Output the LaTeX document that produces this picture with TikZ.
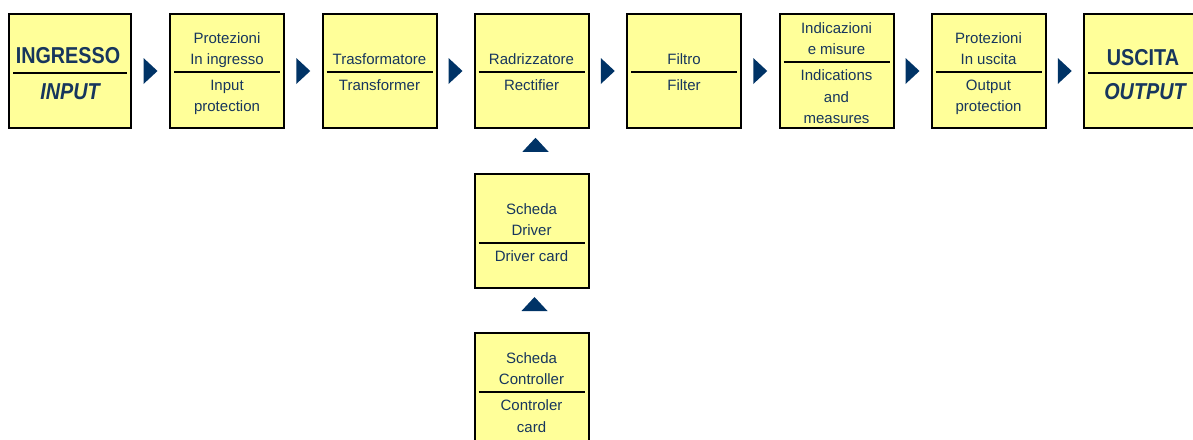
\documentclass[tikz,border=0pt]{standalone}
\usepackage{fontspec}
\setmainfont{Liberation Sans}
\newfontfamily\titlefont[FakeStretch=0.86]{Liberation Sans}
\usepackage{tikz}
\usetikzlibrary{calc,positioning}

\definecolor{boxyellow}{RGB}{255,255,153}
\definecolor{textblue}{RGB}{23,54,93}
\definecolor{triblue}{RGB}{0,51,102}

\tikzset{
	block/.style={draw=black, line width=2pt, fill=boxyellow, minimum width=114pt, minimum height=114pt, inner sep=0pt},
	wideblock/.style={block, minimum width=122pt},
	divider/.style={line width=2pt},
	upper/.style={anchor=south, align=center, text=textblue, inner xsep=0pt, inner ysep=0.5pt, font=\fontsize{15}{21.5}\selectfont, execute at end node=\strut},
	lower/.style={anchor=north, align=center, text=textblue, inner xsep=0pt, inner ysep=7.5pt, font=\fontsize{15}{21.5}\selectfont},
	titleup/.style={anchor=south, inner sep=0pt, text=textblue, text depth=9.5pt, font=\titlefont\fontsize{23}{27}\selectfont\bfseries},
	titledown/.style={anchor=north, inner sep=0pt, text=textblue, text height=26pt, font=\titlefont\fontsize{23}{27}\selectfont\bfseries\itshape},
	tri/.style={fill=triblue}
}

\begin{document}
\begin{tikzpicture}[x=1pt,y=-1pt]
				\useasboundingbox (0,0) rectangle (1193,439);
				\clip (0,0) rectangle (1193,439);
				
				\node [wideblock] (input) at (70,71) {};
				\node [block] (inprot) at (227,71) {};
				\node [block] (transf) at (379.5,71) {};
				\node [block] (rectif) at (531.5,71) {};
				\node [block] (filter) at (684,71) {};
				\node [block] (measure) at (836.5,71) {};
				\node [block] (outprot) at (988.5,71) {};
				\node [wideblock] (output) at (1145,71) {};
				\node [block] (driver) at (531.5,230.5) {};
				\node [block] (control) at (531.5,389.5) {};
				
				\coordinate (d1) at (70,73);
				\coordinate (d2) at (227,72);
				\coordinate (d3) at (379.5,72);
				\coordinate (d4) at (531.5,72);
				\coordinate (d5) at (684,72);
				\coordinate (d6) at (836.5,62);
				\coordinate (d7) at (988.5,72);
				\coordinate (d8) at (1145,73);
				\coordinate (d9) at (531.5,243);
				\coordinate (d10) at (531.5,392);
				
				\draw [divider] ($(input.west |- d1)+(5,0)$) -- ($(input.east |- d1)+(-5,0)$);
				\draw [divider] ($(inprot.west |- d2)+(5,0)$) -- ($(inprot.east |- d2)+(-5,0)$);
				\draw [divider] ($(transf.west |- d3)+(5,0)$) -- ($(transf.east |- d3)+(-5,0)$);
				\draw [divider] ($(rectif.west |- d4)+(5,0)$) -- ($(rectif.east |- d4)+(-5,0)$);
				\draw [divider] ($(filter.west |- d5)+(5,0)$) -- ($(filter.east |- d5)+(-5,0)$);
				\draw [divider] ($(measure.west |- d6)+(5,0)$) -- ($(measure.east |- d6)+(-5,0)$);
				\draw [divider] ($(outprot.west |- d7)+(5,0)$) -- ($(outprot.east |- d7)+(-5,0)$);
				\draw [divider] ($(output.west |- d8)+(5,0)$) -- ($(output.east |- d8)+(-5,0)$);
				\draw [divider] ($(driver.west |- d9)+(5,0)$) -- ($(driver.east |- d9)+(-5,0)$);
				\draw [divider] ($(control.west |- d10)+(5,0)$) -- ($(control.east |- d10)+(-5,0)$);
				
				\node [titleup] (ingresso) at ($(d1)+(-2,0)$) {INGRESSO};
				\node [titledown] (inputen) at (d1) {INPUT};
				\node [upper] (inprotit) at (d2) {Protezioni\\In ingresso};
				\node [lower] (inproten) at (d2) {Input\\protection};
				\node [upper] (transfit) at (d3) {Trasformatore};
				\node [lower] (transfen) at (d3) {Transformer};
				\node [upper] (rectifit) at (d4) {Radrizzatore};
				\node [lower] (rectifen) at (d4) {Rectifier};
				\node [upper] (filterit) at (d5) {Filtro};
				\node [lower] (filteren) at (d5) {Filter};
				\node [upper] (measureit) at (d6) {Indicazioni\\e misure};
				\node [lower] (measureen) at (d6) {Indications\\and\\measures};
				\node [upper] (outprotit) at (d7) {Protezioni\\In uscita};
				\node [lower] (outproten) at (d7) {Output\\protection};
				\node [titleup, text depth=7pt] (uscita) at ($(d8)+(-2,0)$) {USCITA};
				\node [titledown] (outputen) at (d8) {OUTPUT};
				\node [upper] (driverit) at (d9) {Scheda\\Driver};
				\node [lower] (driveren) at (d9) {Driver card};
				\node [upper] (controlit) at (d10) {Scheda\\Controller};
				\node [lower] (controlen) at (d10) {Controler\\card};
				
				% flow marks
				\coordinate (a1) at ($(input.east)!0.5!(inprot.west)$);
				\coordinate (a2) at ($(inprot.east)!0.5!(transf.west)$);
				\coordinate (a3) at ($(transf.east)!0.5!(rectif.west)$);
				\coordinate (a4) at ($(rectif.east)!0.5!(filter.west)$);
				\coordinate (a5) at ($(filter.east)!0.5!(measure.west)$);
				\coordinate (a6) at ($(measure.east)!0.5!(outprot.west)$);
				\coordinate (a7) at ($(outprot.east)!0.5!(output.west)$);
				\coordinate (u1) at ($(rectif.south)!0.5!(driver.north)+(4,-6)$);
				\coordinate (u2) at ($(driver.south)!0.5!(control.north)+(3,-6)$);
				
				\fill [tri] ($(a1)+(-7,-13)$) -- ($(a1)+(7,0)$) -- ($(a1)+(-7,13)$) -- cycle;
				\fill [tri] ($(a2)+(-7,-13)$) -- ($(a2)+(7,0)$) -- ($(a2)+(-7,13)$) -- cycle;
				\fill [tri] ($(a3)+(-7,-13)$) -- ($(a3)+(7,0)$) -- ($(a3)+(-7,13)$) -- cycle;
				\fill [tri] ($(a4)+(-7,-13)$) -- ($(a4)+(7,0)$) -- ($(a4)+(-7,13)$) -- cycle;
				\fill [tri] ($(a5)+(-7,-13)$) -- ($(a5)+(7,0)$) -- ($(a5)+(-7,13)$) -- cycle;
				\fill [tri] ($(a6)+(-7,-13)$) -- ($(a6)+(7,0)$) -- ($(a6)+(-7,13)$) -- cycle;
				\fill [tri] ($(a7)+(-7,-13)$) -- ($(a7)+(7,0)$) -- ($(a7)+(-7,13)$) -- cycle;
				\fill [tri] ($(u1)+(-13,7)$) -- ($(u1)+(0,-7)$) -- ($(u1)+(13,7)$) -- cycle;
				\fill [tri] ($(u2)+(-13,7)$) -- ($(u2)+(0,-7)$) -- ($(u2)+(13,7)$) -- cycle;
\end{tikzpicture}
\end{document}
